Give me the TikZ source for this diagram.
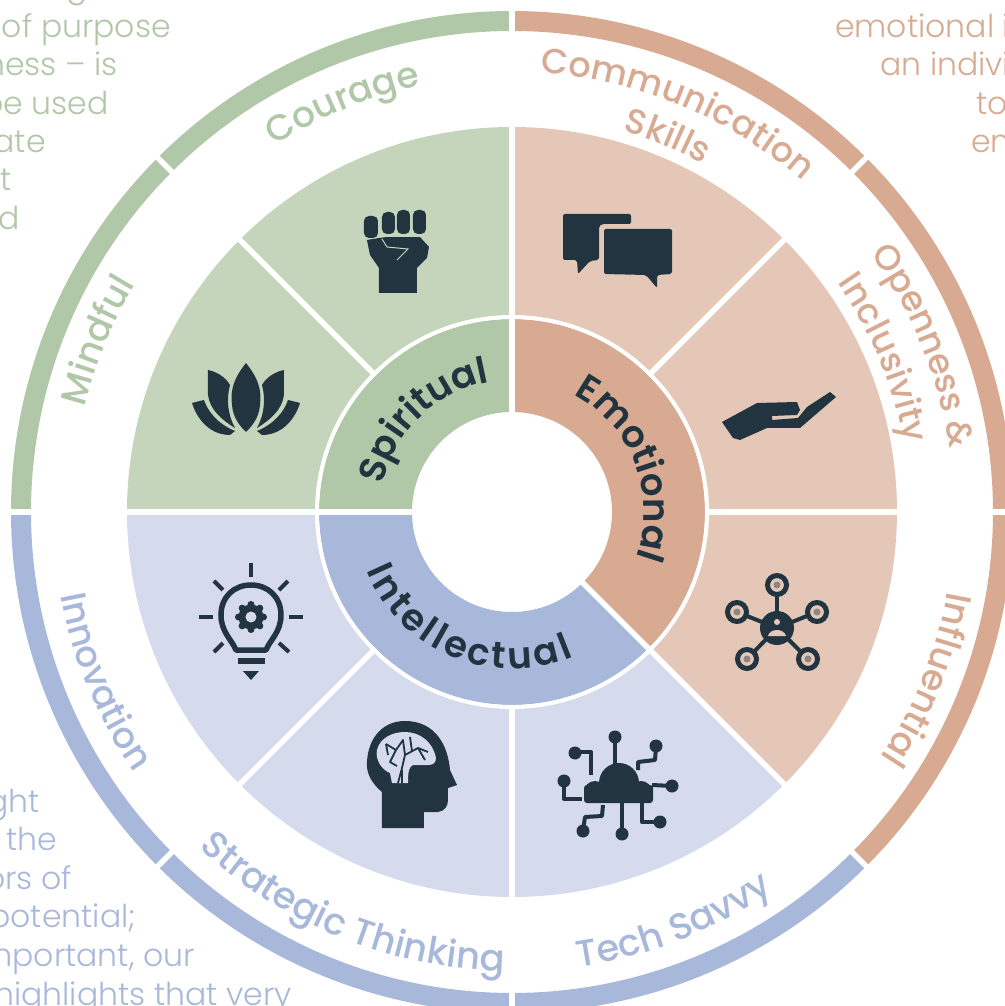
\documentclass[tikz,border=0pt]{standalone}
\usepackage{fontspec}
\usetikzlibrary{decorations.text}
\setmainfont{Poppins}
\newfontfamily\fl{Poppins Light}
\newfontfamily\fm{Poppins Medium}
\newfontfamily\fs[LetterSpace=5]{Poppins SemiBold}
\newcommand\kk[1]{#1\kern3.5pt}
\definecolor{gd}{HTML}{B0C7A8}
\definecolor{gl}{HTML}{C5D5BC}
\definecolor{sd}{HTML}{D8AA92}
\definecolor{sl}{HTML}{E4C7B7}
\definecolor{bd}{HTML}{A8B8DB}
\definecolor{bl}{HTML}{D5DBED}
\definecolor{ink}{HTML}{213440}
% sector: colour, from, to, r1, r2
\newcommand\sector[5]{\fill[#1] (#2:#4pt) arc[start angle=#2,end angle=#3,radius=#4pt] -- (#3:#5pt) arc[start angle=#3,end angle=#2,radius=#5pt] -- cycle;}
% curved text: colour, font size, centre angle, radius, half span (sign = direction), text
\newcommand\curved[7][\fm]{\path[decorate,decoration={text along path,text align=center,text={|\color{#2}#1\fontsize{#3}{#3}\selectfont|#7}}]
  ({#4+#6}:#5pt) arc[start angle={#4+#6},end angle={#4-#6},radius=#5pt];}
\tikzset{
  sidetext/.style={font=\fl\fontsize{31.5}{31.5}\selectfont,inner sep=0pt},
  gap/.style={white,line width=5.5pt},
  icon/.style={fill=ink,draw=none},
  ln/.style={draw=ink,line width=4pt,line cap=round,line join=round},
  pix/.style={x=1pt,y=-1pt,shift={(-512pt,512pt)}}
}
\begin{document}
\begin{tikzpicture}[x=1pt,y=1pt]
\useasboundingbox (-512,-494) rectangle (492,512);
% outer ring
\sector{gd}{90}{135}{481}{501}
\sector{gd}{135}{180}{481}{501}
\sector{sd}{0}{45}{481}{501}
\sector{sd}{45}{90}{481}{501}
\sector{sd}{-45}{0}{481}{501}
\sector{bd}{-90}{-45}{481}{501}
\sector{bd}{180}{225}{481}{501}
\sector{bd}{225}{270}{481}{501}
% light sectors
\sector{gl}{90}{180}{195}{385}
\sector{sl}{-45}{90}{195}{385}
\sector{bl}{180}{315}{195}{385}
% inner ring
\sector{gd}{90}{180}{100}{193}
\sector{sd}{-45}{90}{100}{193}
\sector{bd}{180}{315}{100}{193}
% gaps
\foreach \a in {0,45,...,315} {
  \draw[gap] (\a:196pt) -- (\a:392pt);
  \draw[gap] (\a:476pt) -- (\a:506pt);
}
\draw[white,line width=4pt] (0,0) circle[radius=195pt];
\foreach \a in {90,180,315} \draw[gap] (\a:98pt) -- (\a:196pt);
% inner labels
\curved[\fs]{ink}{37}{134}{132}{60}{Spiritual}
\curved[\fs]{ink}{37}{21}{132}{70}{Emotional}
\curved[\fs]{ink}{37}{247.5}{157}{-70}{{\kk I}{\kk n}{\kk t}{\kk e}{\kk l}{\kk l}{\kk e}{\kk c}{\kk t}{\kk u}{\kk a}l}
% outer labels
\curved{gd}{36}{112.5}{436}{30}{Courage}
\curved{gd}{36}{157.5}{440}{30}{Mindful}
\curved{sd}{35}{67.5}{440}{30}{Communication}
\curved{sd}{35}{67.5}{397}{30}{Skills}
\curved{sd}{35}{22}{442}{30}{Openness {\&}}
\curved{sd}{35}{22.5}{398}{30}{Inclusivity}
\curved{sd}{36}{-22}{443}{30}{Influential}
\curved{bd}{37}{-68.5}{460}{-30}{Tech Savvy}
\curved{bd}{37}{248}{459}{-30}{Strategic Thinking}
\curved{bd}{36}{202.5}{459}{-30}{Innovation}
% side texts
\begin{scope}[pix]
\node[sidetext,text=gd,anchor=base east] (g0) at (88,-2) {g};
\node[sidetext,text=gd,anchor=base east] (g1) at (171,38) {of purpose};
\node[sidetext,text=gd,anchor=base east] (g2) at (118,76) {ness – is};
\node[sidetext,text=gd,anchor=base east] (g3) at (109,115) {be used};
\node[sidetext,text=gd,anchor=base east] (g4) at (46,153) {ate};
\node[sidetext,text=gd,anchor=base east] (g5) at (12,191) {t};
\node[sidetext,text=gd,anchor=base east] (g6) at (20,230) {d};
\node[sidetext,text=sd,anchor=base west] (s1) at (835,38) {emotional i};
\node[sidetext,text=sd,anchor=base west] (s2) at (880,76) {an indivi};
\node[sidetext,text=sd,anchor=base west] (s3) at (976,115) {to};
\node[sidetext,text=sd,anchor=base west] (s4) at (971,153) {en};
\node[sidetext,text=bd,anchor=base east] (b1) at (40,812) {ght};
\node[sidetext,text=bd,anchor=base east] (b2) at (57,850) {the};
\node[sidetext,text=bd,anchor=base east] (b3) at (72,889) {ors of};
\node[sidetext,text=bd,anchor=base east] (b4) at (136,927) {potential;};
\node[sidetext,text=bd,anchor=base east] (b5) at (195,966) {mportant, our};
\node[sidetext,text=bd,anchor=base east] (b6) at (292,1005) {highlights that very};
% fist
\fill[ink,rounded corners=5pt] (364,216) rectangle (378,238);
\fill[ink,rounded corners=5pt] (382,212) rectangle (395,234);
\fill[ink,rounded corners=5pt] (397,210) rectangle (410,234);
\fill[ink,rounded corners=5pt] (413,210) rectangle (426,234);
\fill[ink] (367,240) -- (379,238) -- (387,237) -- (420,237) -- (429,247) -- (427,258) -- (417,268) -- (417,293) -- (379,293) -- (379,268) -- (370,255) -- cycle;
\draw[gl,line width=1pt] (382,239) -- (387,247) -- (408,249) -- (397,260);
\draw[gl,line width=1pt] (387,237) -- (420,237);
% lotus
\fill[ink] (246,363) .. controls (234,378) and (230,390) .. (232,405) .. controls (233,418) and (240,426) .. (246,432) .. controls (252,426) and (259,418) .. (260,405) .. controls (262,390) and (258,378) .. (246,363) -- cycle;
\foreach \s/\o in {1/0,-1/492} {
\begin{scope}[xscale=\s,xshift=\o pt * \s]
\fill[ink] (208,370) .. controls (218,372) and (226,378) .. (230,385) .. controls (226,400) and (228,415) .. (235,428) .. controls (222,420) and (210,410) .. (208,395) -- cycle;
\fill[ink] (192,403) -- (204,400) .. controls (208,412) and (218,424) .. (235,431) -- (230,435) .. controls (212,435) and (198,422) .. (192,403) -- cycle;
\end{scope}}
% speech bubbles
\fill[ink,rounded corners=2pt] (563,214) -- (631,214) -- (631,224) -- (602,224) -- (599,226) -- (599,260) -- (590,261) -- (578,274) -- (577,260) -- (563,260) -- cycle;
\fill[ink,rounded corners=2pt] (604,229) -- (672,229) -- (672,274) -- (657,275) -- (657,288) -- (646,275) -- (604,274) -- cycle;
% hand
\fill[ink] (722,422) -- (757,403) -- (797,402) -- (800,410) -- (797,415) -- (772,416) -- (772,420) -- (798,418) -- (807,407) -- (830,392) -- (836,397) -- (800,428) -- (767,428) -- (740,440) -- (733,438) -- cycle;
% network
\foreach \x/\y in {777/585,737/612,817/612,747/659,808/659} {
  \draw[ln] (\x,\y) -- (777,628);
}
\foreach \x/\y in {777/585,737/612,817/612,747/659,808/659} {
  \filldraw[sl,draw=ink,line width=5pt] (\x,\y) circle[radius=9.5pt];
  \fill[ink!45!sl] (\x,\y) circle[radius=3.5pt];
}
\fill[ink] (777,628) circle[radius=17pt];
\fill[sl] (777,622) circle[radius=3pt];
\fill[sl] (768,636) .. controls (770,628) and (784,628) .. (786,636) -- cycle;
% bulb
\draw[ln,line width=5.5pt,line join=round] (236,650) .. controls (232,640) and (221,632) .. (221,615) .. controls (221,597) and (234,585) .. (251,585) .. controls (268,585) and (281,597) .. (281,615) .. controls (281,632) and (270,640) .. (266,650) -- cycle;
\draw[ln,line width=6pt,line cap=butt] (238,661) -- (265,661);
\fill[ink] (243,671) -- (259,671) -- (251,680) -- cycle;
\foreach \a in {0,45,...,315} \fill[ink] (251,617) ++(\a:12.5pt) circle[radius=3.5pt];
\fill[ink] (251,617) circle[radius=12.5pt];
\fill[bl] (251,617) circle[radius=5.5pt];
\foreach \xa/\ya/\xb/\yb in {251/563/251/577,199/617/213/617,289/617/303/617,214/581/223/590,288/581/279/590,214/652/223/643,289/652/279/643} \draw[ln,line cap=butt] (\xa,\ya) -- (\xb,\yb);
% head
\fill[ink] (382,828) -- (424,828) -- (424,812) -- (438,812) .. controls (445,811) and (448,806) .. (448,800) -- (448,788) -- (457,785) -- (450,770) .. controls (448,745) and (435,721) .. (405,721) .. controls (380,721) and (366,742) .. (367,767) .. controls (368,778) and (375,786) .. (382,792) -- cycle;
\fill[bl] (377,750) .. controls (380,738) and (392,732) .. (405,732) .. controls (420,732) and (433,742) .. (436,758) .. controls (436,763) and (433,765) .. (428,765) -- (413,765) .. controls (409,767) and (408,771) .. (408,783) -- (392,783) -- (390,773) .. controls (382,770) and (375,760) .. (377,750) -- cycle;
\draw[ink,line width=1.8pt,line join=round] (386,744) -- (396,750) -- (403,740) -- (405,755) -- (418,748) -- (428,752) (396,750) -- (390,762) -- (397,766) (405,755) -- (402,768) -- (398,783) (418,748) -- (425,760) (386,744) -- (388,755) (410,737) -- (412,751);
\draw[ink,line width=1.2pt] (402,770) -- (402,783);
% cloud
\fill[ink] (595,792) circle[radius=11pt] (619,783) circle[radius=20pt] (641,792) circle[radius=11pt];
\fill[ink,rounded corners=3pt] (584,785) rectangle (653,803);
\draw[ln,line cap=butt] (615,766) -- (615,738);
\draw[ln,line cap=butt] (591,775) -- (591,752) -- (575,752);
\draw[ln,line cap=butt] (638,770) -- (638,762) -- (655,760) -- (656,747);
\draw[ln,line cap=butt] (652,785) -- (672,786);
\draw[ln,line cap=butt] (582,799) -- (564,799) -- (564,781);
\draw[ln,line cap=butt] (622,803) -- (622,834);
\draw[ln,line cap=butt] (603,805) -- (602,816) -- (585,817) -- (583,831);
\draw[ln,line cap=butt] (642,803) -- (642,822) -- (660,822);
\foreach \x/\y in {615/737,575/753,656/746,672/786,564/781,622/834,583/831,660/822} \fill[ink] (\x,\y) circle[radius=6.5pt];
\end{scope}
\end{tikzpicture}
\end{document}
